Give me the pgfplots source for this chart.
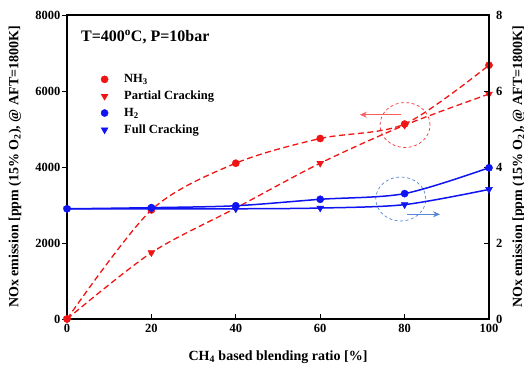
\documentclass[border=0pt]{standalone}
\usepackage{fontspec}
\setmainfont{Liberation Serif}
\usepackage{pgfplots}
\pgfplotsset{compat=1.18}
\usetikzlibrary{arrows.meta}

\definecolor{myred}{RGB}{240,20,20}
\definecolor{myblue}{RGB}{15,20,240}
\definecolor{arrred}{RGB}{250,95,95}
\definecolor{arrblue}{RGB}{85,135,215}

\begin{document}
\begin{tikzpicture}
\pgfplotsset{
  common/.style={
    scale only axis, width=422pt, height=304pt,
    xmin=0, xmax=100,
    /pgf/number format/assume math mode=true,
    /pgf/number format/1000 sep={},
    ticklabel style={font=\bfseries\fontsize{12.5}{14}\selectfont},
    label style={font=\bfseries\fontsize{14}{16}\selectfont},
    major tick length=5pt,
    tick align=inside,
    tick style={black, line width=0.8pt},
    axis line style={line width=1.2pt},
  }
}
\begin{axis}[common,
  ymin=0, ymax=8000,
  ytick={0,2000,4000,6000,8000},
  xtick={0,20,40,60,80,100},
  xtick pos=bottom, ytick pos=left,
  scaled y ticks=false,
  y tick style={xshift=-5pt},
  yticklabel style={xshift=-3pt},
  xticklabel style={yshift=-1.5pt},
  xlabel={CH\textsubscript{4} based blending ratio [\%]},
  ylabel={NOx emission [ppm (15\% O\textsubscript{2}), @ AFT=1800K]},
  xlabel style={at={(axis description cs:0.5,-0.125)}, anchor=center},
  ylabel style={at={(axis description cs:-0.1232,0.5)}, anchor=center},
]
\addplot[myred, line width=1.3pt, dash pattern=on 6pt off 3.5pt, smooth] coordinates {(0,0)(20,2870)(40,4100)(60,4750)(80,5130)(100,6680)};
\addplot[myred, only marks, mark=*, mark size=3.6pt] coordinates {(0,0)(20,2870)(40,4100)(60,4750)(80,5130)(100,6680)};
\addplot[myred, line width=1.3pt, dash pattern=on 6pt off 3.5pt, smooth] coordinates {(0,0)(20,1745)(40,2920)(60,4100)(80,5100)(100,5920)};
\addplot[myred, only marks, mark=triangle*, mark size=4pt, mark options={rotate=180}] coordinates {(0,0)(20,1745)(40,2920)(60,4100)(80,5100)(100,5920)};
\node[anchor=west, font=\bfseries\fontsize{16}{18}\selectfont] at (rel axis cs:0.025,0.928) {T=400\textsuperscript{o}C, P=10bar};
\draw[myred!85, line width=0.7pt, dash pattern=on 3pt off 2.5pt] (axis cs:80.1,5105) ellipse [x radius=25pt, y radius=22.5pt];
\draw[arrred, line width=0.9pt, -{Stealth[length=7pt, width=6pt]}] (axis cs:79.1,5376) -- (axis cs:69.4,5376);
\draw[arrblue, line width=0.7pt, dash pattern=on 3pt off 2.5pt] (axis cs:79.1,3158) ellipse [x radius=25pt, y radius=22pt];
\draw[arrblue, line width=0.9pt, -{Stealth[length=7pt, width=6pt]}] (axis cs:80.5,2755) -- (axis cs:88.4,2755);
\end{axis}
\begin{axis}[common,
  ymin=0, ymax=8,
  ytick={0,2,4,6,8},
  axis y line*=right, axis x line=none,
  yticklabel style={xshift=3.5pt},
  ylabel={NOx emission [ppm (15\% O\textsubscript{2}), @ AFT=1800K]},
  ylabel style={at={(axis description cs:1.0705,0.5)}, anchor=center, rotate=0},
  legend style={draw=none, fill=none, at={(rel axis cs:0.073,0.818)}, anchor=north west,
    font=\bfseries\fontsize{12.5}{14}\selectfont, row sep=2.9pt,
    /tikz/every odd column/.append style={column sep=14pt}},
  legend cell align=left,
]
\addlegendimage{only marks, mark=*, myred, mark size=3.6pt}
\addlegendentry{NH\textsubscript{3}}
\addlegendimage{only marks, mark=triangle*, myred, mark size=4pt, mark options={rotate=180}}
\addlegendentry{Partial Cracking}
\addplot[myblue, line width=1.5pt, smooth, forget plot] coordinates {(0,2.90)(20,2.93)(40,2.98)(60,3.15)(80,3.30)(100,3.98)};
\addplot[myblue, only marks, mark=*, mark size=3.6pt] coordinates {(0,2.90)(20,2.93)(40,2.98)(60,3.15)(80,3.30)(100,3.98)};
\addlegendentry{H\textsubscript{2}}
\addplot[myblue, line width=1.5pt, smooth, forget plot] coordinates {(0,2.90)(20,2.90)(40,2.90)(60,2.92)(80,3.01)(100,3.41)};
\addplot[myblue, only marks, mark=triangle*, mark size=4pt, mark options={rotate=180}] coordinates {(0,2.90)(20,2.90)(40,2.90)(60,2.92)(80,3.01)(100,3.41)};
\addlegendentry{Full Cracking}
\end{axis}
\pgfresetboundingbox
\useasboundingbox (-67pt,-47pt) rectangle (457pt,319pt);
\end{tikzpicture}
\end{document}
